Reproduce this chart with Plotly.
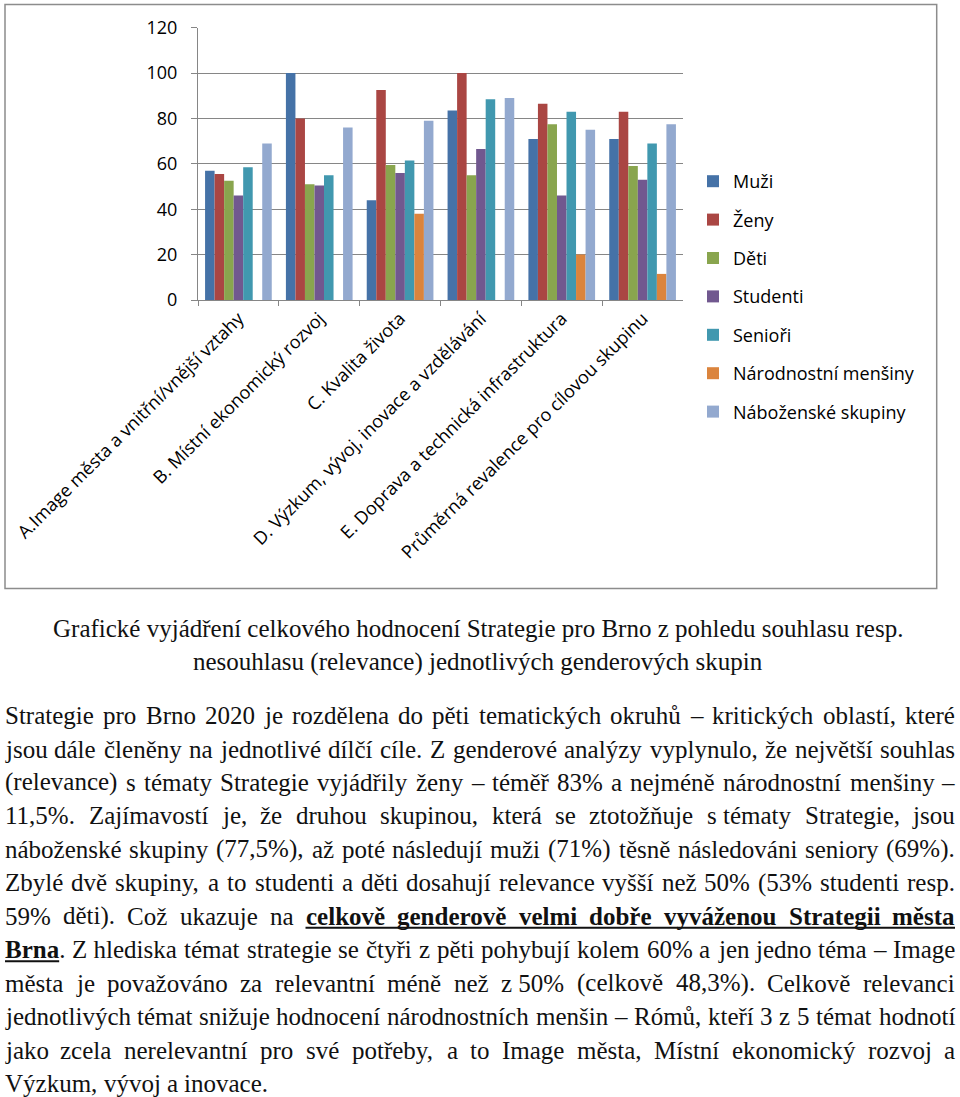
import unicodedata
import plotly.graph_objects as go

# ---------------- data ----------------
categories = [
    "A.Image města a vnitřní/vnější vztahy",
    "B. Místní ekonomický rozvoj",
    "C. Kvalita života",
    "D. Výzkum, vývoj, inovace a vzdělávání",
    "E. Doprava a technická infrastruktura",
    "Průměrná revalence pro cílovou skupinu",
]
series_names = ["Muži", "Ženy", "Děti", "Studenti", "Senioři",
                "Národnostní menšiny", "Náboženské skupiny"]
muzi = [57, 100, 44, 83.5, 71, 71]
zeny = [55.5, 80, 92.5, 100, 86.5, 83]
deti = [52.5, 51, 59.5, 55, 77.5, 59]
studenti = [46, 50.5, 56, 66.5, 46, 53]
seniori = [58.5, 55, 61.5, 88.5, 83, 69]
narodnostni = [0, 0, 38, 0, 20, 11.5]
nabozenske = [69, 76, 79, 89, 75, 77.5]
series_values = [muzi, zeny, deti, studenti, seniori, narodnostni, nabozenske]
colors = ["#4572A7", "#AA4643", "#89A54E", "#71588F", "#4198AF", "#DB843D", "#93A9CF"]
y_ticks = [0, 20, 40, 60, 80, 100, 120]

caption_lines = [
    "Grafické vyjádření celkového hodnocení Strategie pro Brno z pohledu souhlasu resp.",
    "nesouhlasu (relevance) jednotlivých genderových skupin",
]
NB = "\u00a0"
paragraph_lines = [
    "Strategie pro Brno 2020 je rozdělena do pěti tematických okruhů – kritických oblastí, které",
    "jsou dále členěny na jednotlivé dílčí cíle. Z genderové analýzy vyplynulo, že největší souhlas",
    "(relevance) s tématy Strategie vyjádřily ženy – téměř 83% a nejméně národnostní menšiny –",
    "11,5%. Zajímavostí je, že druhou skupinou, která se ztotožňuje s" + NB + "tématy Strategie, jsou",
    "náboženské skupiny (77,5%), až poté následují muži (71%) těsně následováni seniory (69%).",
    "Zbylé dvě skupiny, a to studenti a děti dosahují relevance vyšší než 50% (53% studenti resp.",
    "59% děti). Což ukazuje na **celkově genderově velmi dobře vyváženou Strategii města**",
    "**Brna**. Z" + NB + "hlediska témat strategie se čtyři z pěti pohybují kolem 60% a jen jedno téma – Image",
    "města je považováno za relevantní méně než z" + NB + "50% (celkově 48,3%). Celkově relevanci",
    "jednotlivých témat snižuje hodnocení národnostních menšin – Rómů, kteří 3 z 5 témat hodnotí",
    "jako zcela nerelevantní pro své potřeby, a to Image města, Místní ekonomický rozvoj a",
    "Výzkum, vývoj a inovace.",
]

# ---------------- geometry (pixels) ----------------
W, H = 960, 1097
PX0, PX1 = 198, 683
PY_TOP, PY_BOT = 27.7, 300
FS = 25

def px(x):
    return x / W

def py(y):
    return 1 - y / H

# Times metrics (units per 1000 em)
_reg = dict(zip("abcdefghijklmnopqrstuvwxyz",
                [444, 500, 444, 500, 444, 333, 500, 500, 278, 278, 500, 278, 778,
                 500, 500, 500, 500, 333, 389, 278, 500, 500, 722, 500, 500, 444]))
_reg.update(dict(zip("ABCDEFGHIJKLMNOPQRSTUVWXYZ",
                     [722, 667, 667, 722, 611, 556, 722, 722, 333, 389, 722, 611, 889,
                      722, 722, 556, 722, 667, 556, 611, 722, 722, 944, 722, 722, 611])))
_reg.update({c: 500 for c in "0123456789"})
_reg.update({" ": 250, NB: 250, ",": 250, ".": 250, "(": 333, ")": 333, "%": 833,
             "–": 500, "/": 278, "-": 333, ":": 278})
_bold = dict(_reg)
_bold.update(dict(zip("abcdefghijklmnopqrstuvwxyz",
                      [500, 556, 444, 556, 444, 333, 500, 556, 278, 333, 556, 278, 833,
                       556, 500, 556, 556, 444, 389, 333, 556, 500, 722, 500, 500, 444])))

def base(ch):
    return unicodedata.normalize("NFD", ch)[0]

def width(text, bold=False):
    t = _bold if bold else _reg
    return sum(t.get(base(c), 500) for c in text) * FS / 1000.0

def parse_word(word):
    parts = word.split("**")
    html, w = "", 0.0
    for i, p in enumerate(parts):
        if not p:
            continue
        b = (i % 2 == 1)
        w += width(p, b)
        html += f"<b>{p}</b>" if b else p
    return html, w

def tokenize(line, state):
    words = line.split(" ")
    out = []
    for wd in words:
        txt = ("**" + wd) if state else wd
        n = wd.count("**")
        if state and n % 2 == 0:
            txt = txt + "**"
        elif not state and n % 2 == 1:
            txt = txt + "**"
        if n % 2 == 1:
            state = not state
        html, w = parse_word(txt)
        out.append((html, w, "<b>" in html))
    return out, state

fig = go.Figure()
for name, vals, col in zip(series_names, series_values, colors):
    fig.add_trace(go.Bar(x=categories, y=vals, name=name, marker_color=col,
                         marker_line_width=0, legendgroup=name))

annotations = []
shapes = []

# chart frame
shapes.append(dict(type="rect", xref="paper", yref="paper",
                   x0=px(5), x1=px(936.7), y0=py(588.5), y1=py(4.5),
                   line=dict(color="#8c8c8c", width=1.5), layer="below"))

font_serif = "Liberation Serif, Times New Roman, serif"

# caption
for i, line in enumerate(caption_lines):
    baseline = 636.7 + 34 * i
    annotations.append(dict(text=line, x=px(478), y=py(baseline - 0.3375 * FS),
                            xref="paper", yref="paper", xanchor="center", yanchor="middle",
                            showarrow=False, font=dict(family=font_serif, size=FS, color="#111")))

# paragraph (justified)
LEFT, RIGHT = 5, 955
state = False
for k, line in enumerate(paragraph_lines):
    baseline = 724 + 33.45 * k
    yc = py(baseline - 0.3375 * FS)
    toks, state = tokenize(line, state)
    total = sum(t[1] for t in toks)
    last = (k == len(paragraph_lines) - 1)
    gap = width(" ") if last or len(toks) < 2 else (RIGHT - LEFT - total) / (len(toks) - 1)
    x = LEFT
    ul_start = None
    ul_end = None
    for j, (html, w, isb) in enumerate(toks):
        if j == len(toks) - 1 and not last:
            annotations.append(dict(text=html, x=px(RIGHT), y=yc, xref="paper", yref="paper",
                                    xanchor="right", yanchor="middle", showarrow=False,
                                    borderpad=0, borderwidth=0,
                                    font=dict(family=font_serif, size=FS, color="#111")))
        else:
            annotations.append(dict(text=html, x=px(x), y=yc, xref="paper", yref="paper",
                                    xanchor="left", yanchor="middle", showarrow=False,
                                    borderpad=0, borderwidth=0,
                                    font=dict(family=font_serif, size=FS, color="#111")))
        if isb:
            bw = w if not html.endswith(".") else w - width(".")
            if ul_start is None:
                ul_start = x
            ul_end = x + bw
            if j == len(toks) - 1 and not last:
                ul_end = RIGHT
        x += w + gap
    if ul_start is not None:
        shapes.append(dict(type="line", xref="paper", yref="paper",
                           x0=px(ul_start), x1=px(ul_end),
                           y0=py(baseline + 3), y1=py(baseline + 3),
                           line=dict(color="#111", width=2)))

fig.update_layout(
    width=W, height=H,
    margin=dict(l=0, r=0, t=0, b=0, autoexpand=False),
    paper_bgcolor="white", plot_bgcolor="white",
    barmode="group", bargap=0.175, bargroupgap=0,
    font=dict(family="Open Sans, sans-serif", size=18, color="#000"),
    showlegend=True,
    legend=dict(x=px(693), y=py(163), xanchor="left", yanchor="top",
                traceorder="grouped", tracegroupgap=12,
                font=dict(family="Open Sans, sans-serif", size=18, color="#000"),
                bgcolor="rgba(0,0,0,0)"),
    xaxis=dict(domain=[px(PX0), px(PX1)], showgrid=False, showline=True, automargin=False,
               linecolor="#868686", linewidth=1, ticks="outside", tickson="boundaries",
               ticklen=5, tickcolor="#868686", tickangle=-45,
               tickfont=dict(family="Open Sans, sans-serif", size=18, color="#000")),
    yaxis=dict(domain=[py(PY_BOT), py(PY_TOP)], range=[0, 120], tickvals=y_ticks,
               showgrid=True, gridcolor="#868686", gridwidth=1, showline=True, automargin=False,
               linecolor="#868686", ticks="outside", ticklen=6, tickcolor="#868686",
               ticklabelstandoff=10, zeroline=False,
               tickfont=dict(family="Open Sans, sans-serif", size=18, color="#000")),
    annotations=annotations,
    shapes=shapes,
)

fig.write_html("out.html", config={"displayModeBar": False},
               post_script="document.body.style.margin='0';")
